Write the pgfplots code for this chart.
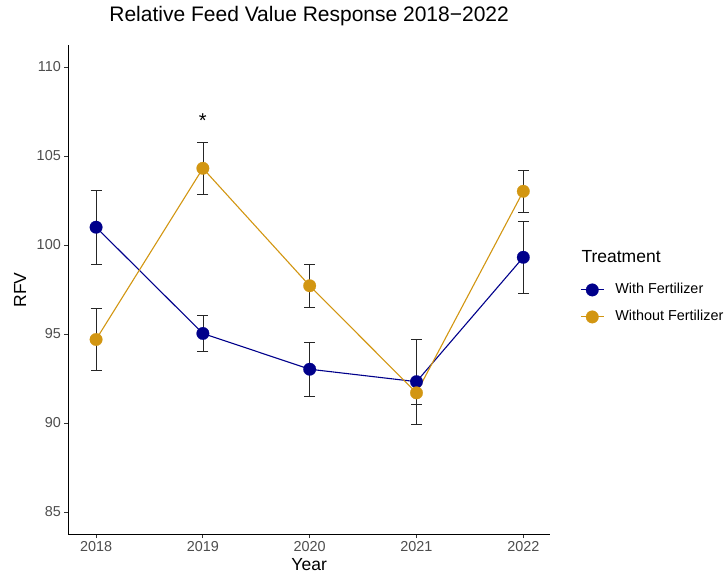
\documentclass[border=0pt]{standalone}
\usepackage{fontspec}
\setmainfont{Liberation Sans}
\usepackage{pgfplots}
\usepackage{pgfplotstable}
\pgfplotsset{compat=1.18}
\definecolor{navyc}{HTML}{00008B}
\definecolor{goldc}{RGB}{210,150,18}
\definecolor{tickgray}{HTML}{4D4D4D}
\pgfplotstableread{
year rfv err
2018 101.00 2.08
2019 95.03 1.00
2020 93.02 1.52
2021 92.32 2.40
2022 99.31 2.03
}\withfert
\pgfplotstableread{
year rfv err
2018 94.69 1.755
2019 104.31 1.445
2020 97.71 1.20
2021 91.69 0.65
2022 103.02 1.20
}\withoutfert
\begin{document}
\begin{tikzpicture}[x=1pt,y=1pt]
\useasboundingbox (0,0) rectangle (728,573);
\begin{axis}[
  at={(68.3pt,38.8pt)}, anchor=south west,
  scale only axis, width=481.7pt, height=489.4pt,
  xmin=2017.74, xmax=2022.25, ymin=83.75, ymax=111.25,
  clip=false,
  axis lines*=left,
  axis line style={line width=1.1pt, black},
  xtick={2018,2019,2020,2021,2022}, ytick={85,90,95,100,105,110},
  /pgf/number format/.cd, 1000 sep={}, assume math mode=true, /pgfplots/.cd,
  tick align=outside, major tick length=4pt,
  tick style={line width=0.8pt, color=black!80},
  ticklabel style={font=\fontsize{14.4}{16}\selectfont, text=tickgray},
  xlabel={Year}, ylabel={RFV},
  label style={font=\fontsize{17.5}{20}\selectfont},
  xlabel style={at={(0.5,-0.0745)}, anchor=base, inner sep=0pt},
  ylabel style={at={(-0.1003,0.499)}, anchor=center},
  title={Relative Feed Value Response 2018−2022},
  title style={at={(0.5,1.0466)}, anchor=center, font=\fontsize{21}{24}\selectfont},
  legend style={draw=none, fill=none, at={(1.0623,0.4715)}, anchor=west,
    inner sep=0pt, row sep=14pt, column sep=5pt,
    font=\fontsize{14.4}{16}\selectfont,
    nodes={inner xsep=6pt, inner ysep=0pt, text height=10pt, text depth=3pt}},
  legend cell align=left,
  legend image code/.code={\draw[mark repeat=2,mark phase=2] plot coordinates {(0pt,0pt)(11.5pt,0pt)(23pt,0pt)};},
]
\addplot[navyc, line width=1.1pt, mark=*, mark size=6.3pt,
  mark options={solid, fill=navyc, draw=navyc, line width=0.2pt},
  error bars/.cd, y dir=both, y explicit,
  error bar style={black!85, line width=0.6pt},
  error mark options={rotate=90, mark size=5.5pt, black!85, line width=0.6pt}]
  table[x=year, y=rfv, y error=err] {\withfert};
\addlegendentry{With Fertilizer}
\addplot[goldc, line width=1.1pt, mark=*, mark size=6.3pt,
  mark options={solid, fill=goldc, draw=goldc, line width=0.2pt},
  error bars/.cd, y dir=both, y explicit,
  error bar style={black!85, line width=0.6pt},
  error mark options={rotate=90, mark size=5.5pt, black!85, line width=0.6pt}]
  table[x=year, y=rfv, y error=err] {\withoutfert};
\addlegendentry{Without Fertilizer}
\node[font=\fontsize{20}{20}\selectfont] at (axis cs:2019,107.0) {*};
\node[anchor=west, font=\fontsize{17.5}{20}\selectfont] at (rel axis cs:1.0581,0.5664) {Treatment};
\end{axis}
\end{tikzpicture}
\end{document}
